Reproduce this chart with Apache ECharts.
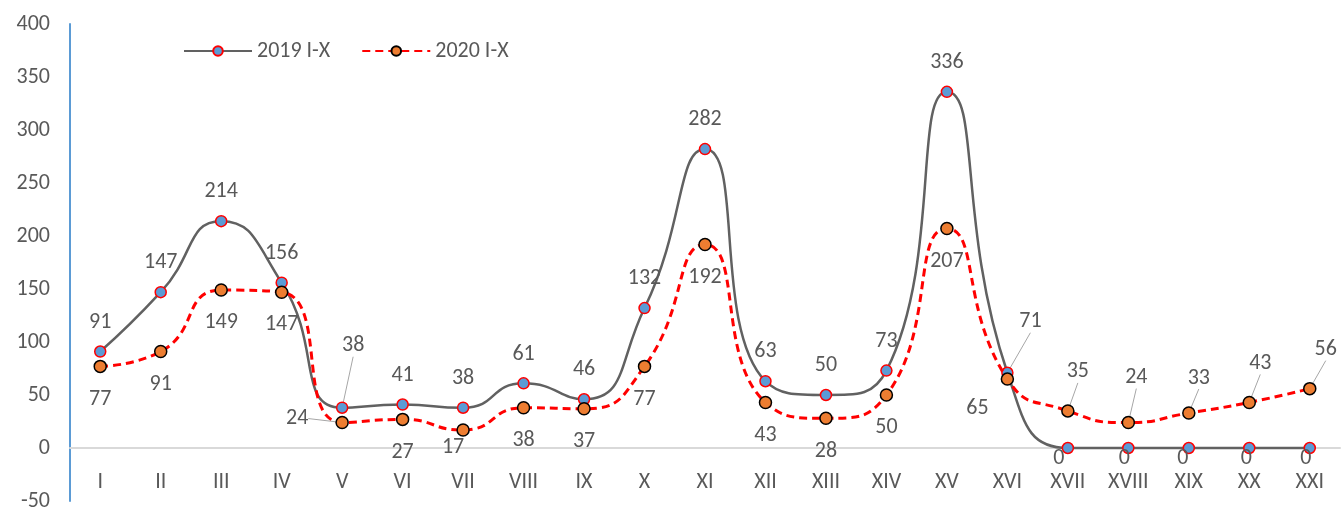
<!DOCTYPE html>
<html>
<head>
<meta charset="UTF-8">
<script src="https://cdn.jsdelivr.net/npm/echarts@6/dist/echarts.min.js"></script>
<style>
  html, body { margin: 0; padding: 0; background: #fff; }
  #chart { width: 1344px; height: 509px; }
</style>
</head>
<body>
<div id="chart"></div>
<script>
var categories = ['I', 'II', 'III', 'IV', 'V', 'VI', 'VII', 'VIII', 'IX', 'X', 'XI',
  'XII', 'XIII', 'XIV', 'XV', 'XVI', 'XVII', 'XVIII', 'XIX', 'XX', 'XXI'];
var seriesNames = ['2019 I-X', '2020 I-X'];
var values2019 = [91, 147, 214, 156, 38, 41, 38, 61, 46, 132, 282, 63, 50, 73, 336, 71, 0, 0, 0, 0, 0];
var values2020 = [77, 91, 149, 147, 24, 27, 17, 38, 37, 77, 192, 43, 28, 50, 207, 65, 35, 24, 33, 43, 56];

var font = 'Carlito, Lato, sans-serif';
var textColor = '#595959';
var fontSize = 22;

// label moves (pixels from the marker centre), line = draw a guide line
var moves2019 = {
  4: { dx: 11, dy: -62, line: true },
  15: { dx: 23, dy: -51, line: true },
  16: { dx: -9, dy: 10 }, 17: { dx: -4, dy: 10 }, 18: { dx: -6, dy: 10 },
  19: { dx: -3, dy: 10 }, 20: { dx: -4, dy: 10 }
};
var moves2020 = {
  4: { dx: -45, dy: -4, line: true },
  6: { dx: -10, dy: 18 },
  15: { dx: -30, dy: 29 },
  16: { dx: 10, dy: -39, line: true },
  17: { dx: 8, dy: -45, line: true },
  18: { dx: 10, dy: -35, line: true },
  19: { dx: 11, dy: -39, line: true },
  20: { dx: 16, dy: -39, line: true }
};

function buildData(values, moves) {
  return values.map(function (v, i) {
    var item = { value: v };
    if (moves[i] && moves[i].line) item.labelLine = { show: true };
    return item;
  });
}

function layoutFor(moves) {
  return function (params) {
    var m = moves[params.dataIndex];
    if (!m) return {};
    var cx = params.rect.x + params.rect.width / 2;
    var cy = params.rect.y + params.rect.height / 2;
    return { x: cx + m.dx, y: cy + m.dy, align: 'center', verticalAlign: 'middle' };
  };
}

var chart = echarts.init(document.getElementById('chart'));

chart.setOption({
  animation: false,
  grid: { left: 70, right: 4, top: 24, bottom: 8, containLabel: false, outerBoundsMode: 'none' },
  legend: {
    left: 178,
    top: 35,
    itemWidth: 68,
    itemHeight: 12,
    itemGap: 31,
    textStyle: { fontFamily: font, fontSize: fontSize, color: textColor },
    data: seriesNames
  },
  xAxis: [
    {
      // zero line
      type: 'category',
      data: categories,
      axisLine: { onZero: true, lineStyle: { color: '#d9d9d9', width: 2 } },
      axisTick: { show: false },
      axisLabel: { show: false },
      splitLine: { show: false }
    },
    {
      // category names, sitting just under the zero line
      type: 'category',
      data: categories,
      position: 'bottom',
      offset: -53,
      axisLine: { show: false, onZero: false },
      axisTick: { show: false },
      axisLabel: { margin: 23, fontFamily: font, fontSize: fontSize, color: textColor },
      splitLine: { show: false }
    }
  ],
  yAxis: {
    type: 'value',
    min: -50,
    max: 400,
    interval: 50,
    axisLine: { show: true, onZero: false, lineStyle: { color: '#5b9bd5', width: 2 } },
    axisTick: { show: false },
    axisLabel: { margin: 20, fontFamily: font, fontSize: fontSize, color: textColor },
    splitLine: { show: false }
  },
  series: [
    {
      name: seriesNames[0],
      type: 'line',
      xAxisIndex: 0,
      smooth: 0.55,
      data: buildData(values2019, moves2019),
      symbol: 'circle',
      symbolSize: 11,
      lineStyle: { color: '#616161', width: 2.5 },
      itemStyle: { color: '#5b9bd5', borderColor: '#ff0000', borderWidth: 1.5 },
      label: {
        show: true, position: 'top', distance: 12,
        fontFamily: font, fontSize: fontSize, color: textColor
      },
      labelLine: { show: false, lineStyle: { color: '#a6a6a6', width: 1 } },
      labelLayout: layoutFor(moves2019),
      z: 2
    },
    {
      name: seriesNames[1],
      type: 'line',
      xAxisIndex: 0,
      smooth: 0.55,
      data: buildData(values2020, moves2020),
      symbol: 'circle',
      symbolSize: 12,
      lineStyle: { color: '#ff0000', width: 3, type: [8, 5] },
      itemStyle: { color: '#ed7d31', borderColor: '#000000', borderWidth: 1.5 },
      label: {
        show: true, position: 'bottom', distance: 15,
        fontFamily: font, fontSize: fontSize, color: textColor
      },
      labelLine: { show: false, lineStyle: { color: '#a6a6a6', width: 1 } },
      labelLayout: layoutFor(moves2020),
      z: 3
    }
  ]
});

window.addEventListener('resize', function () {
  chart.resize();
});
</script>
</body>
</html>
